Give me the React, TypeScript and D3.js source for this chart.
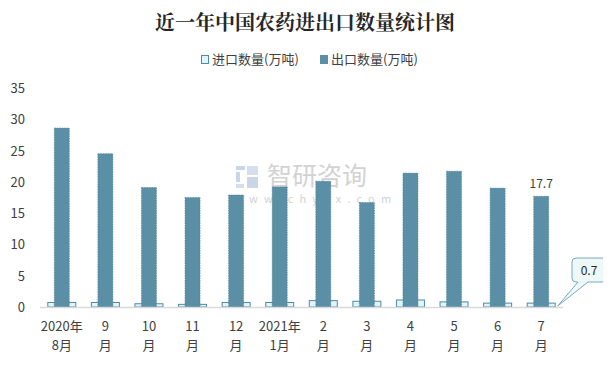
import React from "react";
import * as d3 from "d3";

const categories = ["2020年\n8月", "9\n月", "10\n月", "11\n月", "12\n月", "2021年\n1月", "2\n月", "3\n月", "4\n月", "5\n月", "6\n月", "7\n月"];
const importValues = [0.8, 0.8, 0.6, 0.5, 0.8, 0.8, 1.1, 1.0, 1.2, 0.9, 0.7, 0.7];
const exportValues = [28.6, 24.5, 19.1, 17.5, 17.9, 19.2, 20.1, 16.7, 21.4, 21.7, 19.0, 17.7];
const yTicks = [0, 5, 10, 15, 20, 25, 30, 35];
const seriesNames = ["进口数量(万吨)", "出口数量(万吨)"];
const title = "近一年中国农药进出口数量统计图";

const W = 611;
const H = 370;
const FONT = "'Noto Sans CJK SC', 'Microsoft YaHei', sans-serif";

export default function App() {
  const x = d3.scaleBand<number>().domain(d3.range(categories.length)).range([40, 563]).padding(0);
  const y = d3.scaleLinear().domain([0, 35]).range([307, 88]);
  const step = x.bandwidth();
  const impW = 29;
  const expW = 15;
  const cx = (i: number) => (x(i) as number) + step / 2;
  const lastI = categories.length - 1;

  // callout geometry
  const tipX = cx(lastI) + impW / 2 + 2;
  const tipY = y(0) - 1;
  const bx = 572, by = 258, bw = 34, bh = 24;

  return (
    <div style={{ margin: -8 }}>
      <svg width={W} height={H} style={{ display: "block", fontFamily: FONT }}>
        <rect x={0} y={0} width={W} height={H} fill="#fff" />
        <rect x={2.5} y={2.5} width={605} height={364} fill="none" stroke="#8c8c8c" strokeWidth={1} />

        <text x={305} y={30} textAnchor="middle" fontSize={20} fontWeight="bold" fill="#262626"
          style={{ fontFamily: "'Noto Serif CJK SC', 'Noto Sans CJK SC', serif" }}>{title}</text>

        {/* legend */}
        <rect x={201.5} y={55.5} width={7} height={8} fill="#e0f4f9" stroke="#4f8ba5" />
        <text x={212} y={64} fontSize={13} fill="#404040">{seriesNames[0]}</text>
        <rect x={320} y={55} width={8} height={9} fill="#5b8fa6" />
        <text x={331} y={64} fontSize={13} fill="#404040">{seriesNames[1]}</text>

        {/* watermark */}
        <g opacity={0.75}>
          <rect x={236} y={166} width={9} height={4} fill="#b9c9e0" />
          <rect x={236} y={172} width={4} height={10} fill="#b9c9e0" />
          <rect x={247} y={166} width={11} height={9} fill="#c6d4ea" />
          <rect x={247} y={177} width={11} height={11} fill="#b9c9e0" />
          <rect x={236} y={184} width={8} height={4} fill="#c6d4ea" />
          <text x={267} y={185} fontSize={25} fill="#c4c4c4">智研咨询</text>
          <text x={234} y={203} fontSize={11} fill="#c4c4c4" letterSpacing={6.2}>www.chyxx.com</text>
        </g>

        {/* import bars (behind) */}
        {importValues.map((v, i) => (
          <rect key={"i" + i} x={cx(i) - impW / 2 + 0.5} y={y(v) + 0.5} width={impW - 1} height={y(0) - y(v) - 0.5}
            fill="#e0f4f9" stroke="#4f8ba5" strokeWidth={1} />
        ))}
        {/* export bars */}
        {exportValues.map((v, i) => (
          <rect key={"e" + i} x={cx(i) - expW / 2} y={y(v)} width={expW} height={y(0) - y(v)}
            fill="#5b8fa6" stroke="#4a7d95" strokeWidth={0.6} strokeDasharray="1.5 1" />
        ))}

        {/* baseline */}
        <line x1={40} x2={563} y1={y(0) + 0.5} y2={y(0) + 0.5} stroke="#d9d9d9" strokeWidth={1.5} />

        {/* y ticks */}
        {yTicks.map((t) => (
          <text key={t} x={25} y={y(t) + 5} textAnchor="end" fontSize={13} fill="#404040">{t}</text>
        ))}

        {/* x labels */}
        {categories.map((c, i) => {
          const lines = c.split("\n");
          return (
            <text key={c} textAnchor="middle" fontSize={13} fill="#404040">
              {lines.map((l, k) => (
                <tspan key={k} x={cx(i)} y={331 + k * 19}>{l}</tspan>
              ))}
            </text>
          );
        })}

        {/* data label */}
        <text x={cx(lastI)} y={y(exportValues[lastI]) - 8} textAnchor="middle" fontSize={12} fill="#404040">
          {exportValues[lastI]}
        </text>

        {/* callout */}
        <path
          d={`M${bx + 4},${by} H${bx + bw - 4} Q${bx + bw},${by} ${bx + bw},${by + 4} V${by + bh - 4} Q${bx + bw},${by + bh} ${bx + bw - 4},${by + bh} H${bx + 16} L${tipX},${tipY} L${bx + 6},${by + bh} H${bx + 4} Q${bx},${by + bh} ${bx},${by + bh - 4} V${by + 4} Q${bx},${by} ${bx + 4},${by} Z`}
          fill="#eef8f8" stroke="#7aaab9" strokeWidth={1}
        />
        <text x={bx + bw / 2} y={by + 17} textAnchor="middle" fontSize={12} fill="#262626">
          {importValues[lastI]}
        </text>
      </svg>
    </div>
  );
}
